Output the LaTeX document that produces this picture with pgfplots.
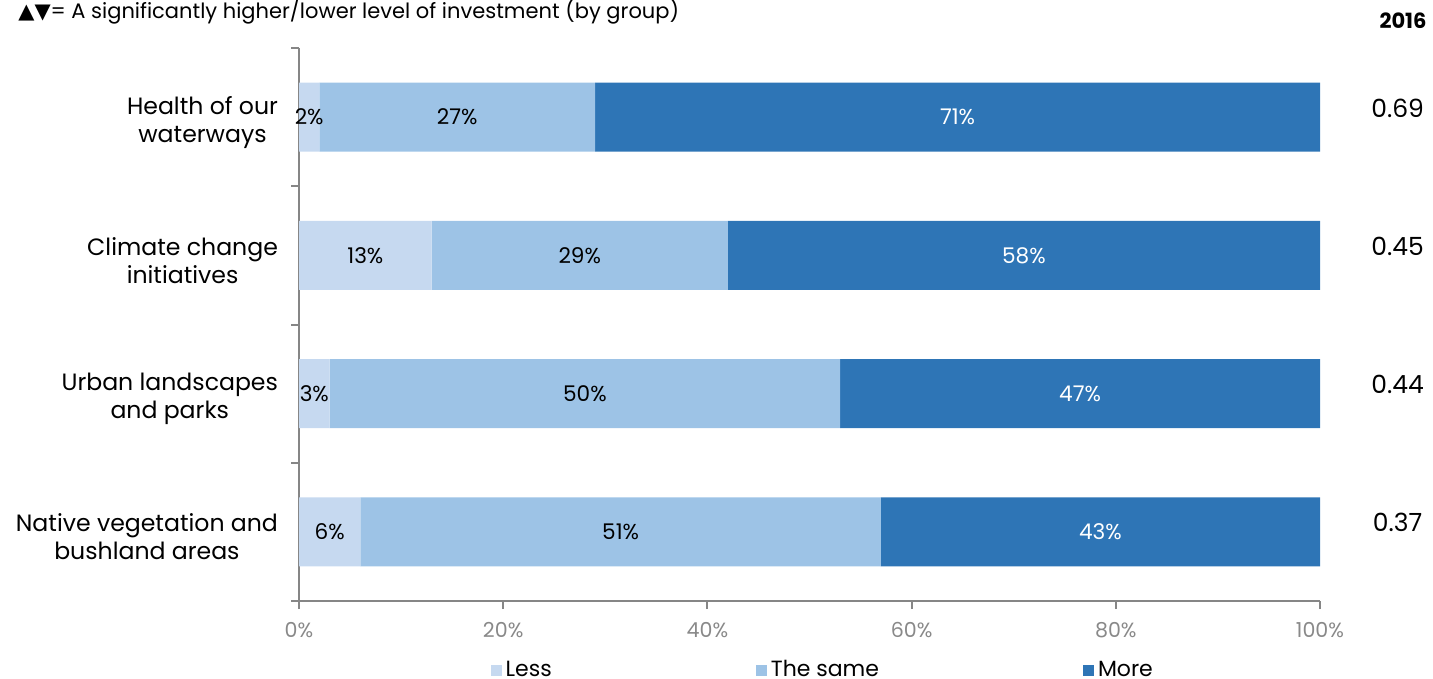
\documentclass[border=0pt]{standalone}
\usepackage{pgfplots}
\pgfplotsset{compat=1.18}
\usepackage{pgfplotstable}
\usepackage{fontspec}
\setmainfont{Poppins}
\newfontfamily\symfont{DejaVu Sans}

\definecolor{cless}{HTML}{C6D9F0}
\definecolor{csame}{HTML}{9DC3E6}
\definecolor{cmore}{HTML}{2E75B6}
\definecolor{axgrey}{HTML}{868686}
\definecolor{tkgrey}{HTML}{898989}

% cat 4 = top row
\pgfplotstableread{
cat less same more idx
4 2 27 71 0.69
3 13 29 58 0.45
2 3 50 47 0.44
1 6 51 43 0.37
}\invest

\pgfplotsset{
  base/.style={
    at={(149.5pt,-300.5pt)}, anchor=south west,
    scale only axis, width=510.5pt, height=276.5pt,
    xmin=0, xmax=100, ymin=0.5, ymax=4.5,
    /pgf/number format/assume math mode=true,
  },
  lbl/.style={draw=none, nodes near coords, point meta=explicit,
    nodes near coords={\pgfmathprintnumber{\pgfplotspointmeta}\%},
    every node near coord/.append style={anchor=center, inner sep=0pt,
      font=\fontsize{10.8}{12}\selectfont, text=#1}},
}

\begin{document}
\begin{tikzpicture}
\useasboundingbox (0,0) rectangle (716.5pt,-339.5pt);

\begin{axis}[base,
  xbar stacked, bar width=0.5,
  axis x line*=bottom, axis y line*=left,
  axis line style={draw=axgrey, line width=1pt, -},
  tick align=outside,
  xtick={0,20,...,100},
  xticklabel={\pgfmathprintnumber{\tick}\%},
  xticklabel style={text=tkgrey, font=\fontsize{10.3}{12}\selectfont, yshift=-3pt},
  major x tick style={draw=axgrey, line width=1pt},
  major tick length=4pt, minor tick length=4pt,
  ytick={1,2,3,4},
  yticklabels={{Native vegetation and\\bushland areas},{Urban landscapes\\and parks},{Climate change\\initiatives},{Health of our\\waterways}},
  yticklabel style={align=center, font=\fontsize{11.8}{14}\selectfont, xshift=-3pt, yshift=-2.5pt},
  major y tick style={draw=none},
  minor ytick={0.5,1.5,2.5,3.5,4.5},
  minor y tick style={draw=axgrey, line width=1pt},
  legend style={at={(0.514,-0.125)}, anchor=center, draw=none,
    legend columns=-1, font=\fontsize{11}{13}\selectfont,
    /tikz/every even column/.append style={column sep=100pt}},
  legend image code/.code={\fill[#1] (0pt,-2.75pt) rectangle (5.5pt,2.75pt);},
]
\addplot[fill=cless, draw=none] table[x=less, y=cat] {\invest};
\addlegendentry{Less}
\addplot[fill=csame, draw=none] table[x=same, y=cat] {\invest};
\addlegendentry{The same}
\addplot[fill=cmore, draw=none] table[x=more, y=cat] {\invest};
\addlegendentry{More}
\end{axis}

\begin{axis}[base, hide axis, clip=false]
\addplot[lbl=black] table[x expr=\thisrow{less}/2, y=cat, meta=less] {\invest};
\addplot[lbl=black] table[x expr=\thisrow{less}+\thisrow{same}/2, y=cat, meta=same] {\invest};
\addplot[lbl=white] table[x expr=\thisrow{less}+\thisrow{same}+\thisrow{more}/2, y=cat, meta=more] {\invest};
\addplot[draw=none, nodes near coords, point meta=explicit symbolic,
  every node near coord/.append style={anchor=base, inner sep=0pt,
    font=\fontsize{12.5}{14}\selectfont}]
  table[x expr=107.6, y=cat, meta=idx] {\invest};
\end{axis}

\node[anchor=base, inner sep=0pt, font=\bfseries\fontsize{10.5}{12}\selectfont] at (701.5pt,-14.5pt) {2016};
\node[anchor=base west, inner sep=0pt, font=\fontsize{10.5}{12}\selectfont] at (9pt,-9.5pt)
  {{\symfont ▲▼}= A significantly higher/lower level of investment (by group)};
\end{tikzpicture}
\end{document}
